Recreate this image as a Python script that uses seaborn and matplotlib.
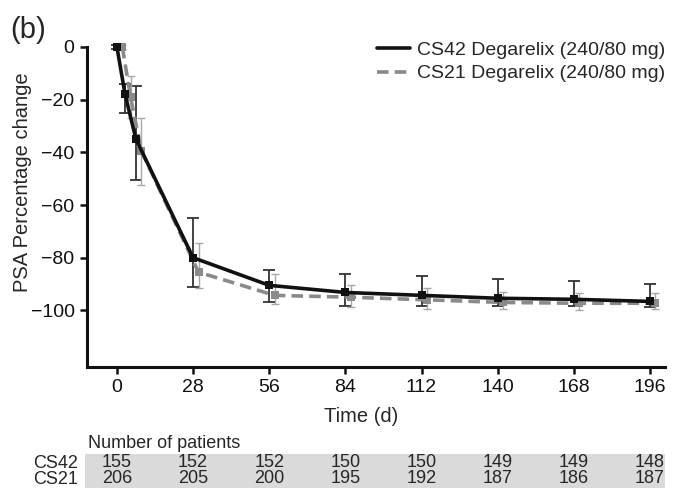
import numpy as np
import pandas as pd
import matplotlib
matplotlib.use("Agg")
import matplotlib.pyplot as plt
import seaborn as sns
from matplotlib.lines import Line2D

# ---- data ----
days = [0, 3, 7, 28, 56, 84, 112, 140, 168, 196]
cs42_mean = [0, -18, -35, -80, -90.5, -93.2, -94.3, -95.4, -95.8, -96.6]
cs42_up = [0.8, 4, 20, 15, 6, 7, 7.3, 7.2, 6.8, 6.6]
cs42_lo = [0.8, 7, 15.6, 11, 6.5, 5, 4.2, 3.1, 2.7, 2.2]
cs21_mean = [0, -19, -39.5, -85.5, -94.3, -95, -96, -97, -97.3, -97.3]
cs21_up = [0.8, 8, 12.5, 11, 8, 4.5, 4.4, 4, 3.8, 3.8]
cs21_lo = [0.8, 8, 13, 6, 3.4, 3.8, 3.6, 2.6, 2.7, 2.3]

xticks = [0, 28, 56, 84, 112, 140, 168, 196]
yticks = [0, -20, -40, -60, -80, -100]
n_cs42 = [155, 152, 152, 150, 150, 149, 149, 148]
n_cs21 = [206, 205, 200, 195, 192, 187, 186, 187]
label42 = "CS42 Degarelix (240/80 mg)"
label21 = "CS21 Degarelix (240/80 mg)"

sns.set_style("ticks")
plt.rcParams['font.family'] = ['Liberation Sans', 'DejaVu Sans']
plt.rcParams['axes.unicode_minus'] = True

W, H = 678, 491
fig = plt.figure(figsize=(W / 100, H / 100), dpi=100)

ax_l, ax_r = 87, 665
ax_top, ax_bot = 41.7, 367
ax = fig.add_axes([ax_l / W, 1 - ax_bot / H, (ax_r - ax_l) / W, (ax_bot - ax_top) / H])

black = "#111111"
grey = "#8a8a8a"
shift = 2.0  # visual offset of the CS21 series

d42 = pd.DataFrame({"day": days, "val": cs42_mean})
d21 = pd.DataFrame({"day": np.array(days) + shift, "val": cs21_mean})

ax.errorbar(d42["day"], d42["val"], yerr=[cs42_lo, cs42_up], fmt="none",
            ecolor="#333333", elinewidth=1.3, capsize=4, capthick=1.3, zorder=2, clip_on=False)
ax.errorbar(d21["day"], d21["val"], yerr=[cs21_lo, cs21_up], fmt="none",
            ecolor="#a8a8a8", elinewidth=1.0, capsize=3, capthick=1.0, zorder=2, clip_on=False)

sns.lineplot(data=d21, x="day", y="val", ax=ax, color=grey, linewidth=2.6,
             linestyle=(0, (3.2, 1.7)), marker="s", markersize=6, markeredgewidth=0,
             zorder=3, clip_on=False)
sns.lineplot(data=d42, x="day", y="val", ax=ax, color=black, linewidth=2.6,
             marker="s", markersize=6, markeredgewidth=0, zorder=4, clip_on=False)

ax.set_xlim(-11, 201.5)
ax.set_ylim(-121.5, 2)
ax.spines['left'].set_bounds(-121.5, 0)
for s in ['top', 'right']:
    ax.spines[s].set_visible(False)
for s in ['left', 'bottom']:
    ax.spines[s].set_linewidth(2.2)
    ax.spines[s].set_color("#111111")

ax.set_xticks(xticks)
ax.set_yticks(yticks)
ax.set_xticklabels([str(t) for t in xticks])
ax.set_yticklabels([f"\u2212{abs(t)}" if t < 0 else "0" for t in yticks])
ax.tick_params(axis='both', direction='out', length=5, width=1.8, labelsize=14,
               colors="#111111", pad=4)

ax.set_xlabel("Time (d)", fontsize=14.5)
ax.set_ylabel("PSA Percentage change", fontsize=14.5)
ax.xaxis.set_label_coords(0.474, -0.124)
ax.yaxis.set_label_coords(-0.095, 0.569)

handles = [Line2D([0], [0], color=black, lw=2.6),
           Line2D([0], [0], color=grey, lw=2.6, linestyle=(0, (3.2, 1.7)))]
ax.legend(handles, [label42, label21], loc="upper right", bbox_to_anchor=(1.031, 1.055),
          frameon=False, fontsize=14, handlelength=1.7, handletextpad=0.35,
          labelspacing=0.3)

fig.text(10 / W, 1 - 30 / H, "(b)", fontsize=21, va="center", ha="left")

# ---- patients table ----
tb_top, tb_bot = 454, 488
tab = fig.add_axes([85 / W, 1 - tb_bot / H, (ax_r - 85) / W, (tb_bot - tb_top) / H])
tab.set_xlim(-11 - 2 * 28 / 76.2, 201.5)
tab.set_ylim(0, 2)
tab.set_facecolor("#dadada")
for s in tab.spines.values():
    s.set_visible(False)
tab.set_xticks([])
tab.set_yticks([])
for x, a, b in zip(xticks, n_cs42, n_cs21):
    tab.text(x, 1.52, str(a), ha="center", va="center", fontsize=13)
    tab.text(x, 0.55, str(b), ha="center", va="center", fontsize=13)
fig.text(78 / W, 1 - 463.5 / H, "CS42", ha="right", va="center", fontsize=13)
fig.text(78 / W, 1 - 480 / H, "CS21", ha="right", va="center", fontsize=13)
fig.text(88 / W, 1 - 448 / H, "Number of patients", ha="left", va="baseline", fontsize=13)

fig.savefig("out.png", dpi=100)
